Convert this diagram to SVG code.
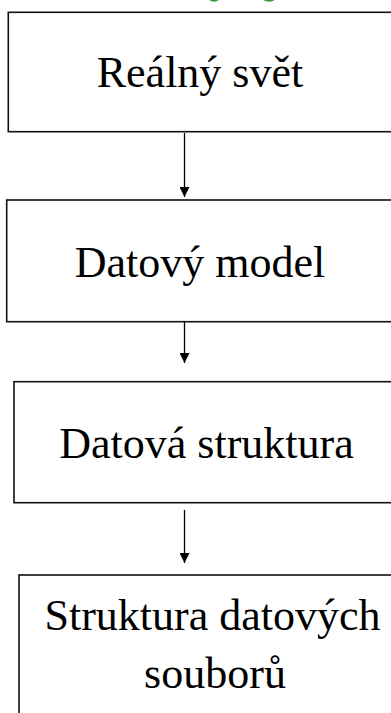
<svg xmlns="http://www.w3.org/2000/svg" width="391" height="713" viewBox="0 0 391 713">
  <style>
    .box { fill: #ffffff; stroke: #111111; stroke-width: 1.6; }
    .label { font-family: "Liberation Serif", "Times New Roman", serif; font-size: 44px; fill: #000000; text-anchor: middle; }
    .link { stroke: #000000; stroke-width: 1.3; fill: none; }
    .mark { fill: #3a9a3a; }
  </style>
  <defs>
    <marker id="arrow" viewBox="0 0 10 10" refX="10" refY="5" markerWidth="10" markerHeight="10" markerUnits="userSpaceOnUse" orient="auto">
      <path d="M0,0 L10,5 L0,10 z" fill="#000000"/>
    </marker>
  </defs>
  <rect width="391" height="713" fill="#ffffff"/>

  <!-- green fragments along the top edge -->
  <g id="top-marks">
    <path class="mark" d="M209,0 Q214,3.5 219,0 z"/>
    <path class="mark" d="M263,0 Q269,3.5 275,0 z"/>
  </g>

  <g id="connectors">
    <line class="link" x1="184.5" y1="133" x2="184.5" y2="197" marker-end="url(#arrow)"/>
    <line class="link" x1="184.5" y1="310" x2="184.5" y2="363" marker-end="url(#arrow)"/>
    <line class="link" x1="184.5" y1="510" x2="184.5" y2="563" marker-end="url(#arrow)"/>
  </g>

  <g id="node-realny-svet">
    <rect class="box" x="8.3" y="12.3" width="420" height="119.4"/>
    <text class="label" x="200" y="87">Reálný svět</text>
  </g>

  <g id="node-datovy-model">
    <rect class="box" x="6.7" y="200" width="420" height="121.7"/>
    <text class="label" x="200" y="277">Datový model</text>
  </g>

  <g id="node-datova-struktura">
    <rect class="box" x="14" y="381.7" width="420" height="121"/>
    <text class="label" x="206.5" y="458">Datová struktura</text>
  </g>

  <g id="node-struktura-souboru">
    <rect class="box" x="19" y="575" width="420" height="200"/>
    <text class="label" x="212.5" y="630">Struktura datových</text>
    <text class="label" x="215" y="688">souborů</text>
  </g>
</svg>
